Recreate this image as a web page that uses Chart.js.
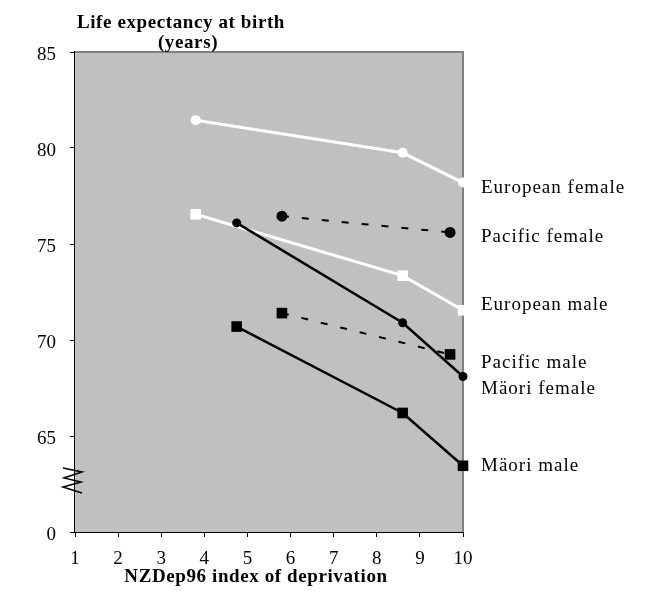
<!DOCTYPE html>
<html>
<head>
<meta charset="utf-8">
<script src="https://cdn.jsdelivr.net/npm/chart.js@4"></script>
<style>
  html, body { margin: 0; padding: 0; background: #fff; }
  #wrap { width: 650px; height: 600px; }
</style>
</head>
<body>
<div id="wrap"><canvas id="lifeChart" width="650" height="600"></canvas></div>
<script>
// deprivation index positions and life expectancy (years)
const euroFemaleX = [3.8, 8.6, 10];
const euroFemaleY = [81.45, 79.75, 78.2];
const euroMaleX = [3.8, 8.6, 10];
const euroMaleY = [76.55, 73.35, 71.55];
const pacFemaleX = [5.8, 9.7];
const pacFemaleY = [76.45, 75.6];
const pacMaleX = [5.8, 9.7];
const pacMaleY = [71.4, 69.25];
const maoriFemaleX = [4.75, 8.6, 10];
const maoriFemaleY = [76.1, 70.9, 68.1];
const maoriMaleX = [4.75, 8.6, 10];
const maoriMaleY = [70.7, 66.2, 63.45];

const seriesNames = ["European female", "Pacific female", "European male", "Pacific male", "Mäori female", "Mäori male"];
// where each series name sits on the right, in y-axis units
const nameAt = [77.9, 75.35, 71.8, 68.8, 67.45, 63.45];

const xTicks = [1, 2, 3, 4, 5, 6, 7, 8, 9, 10];
const yTicks = [60, 65, 70, 75, 80, 85];

const pts = (xs, ys) => xs.map((x, i) => ({ x: x, y: ys[i] }));
const serif = "'Liberation Serif', 'Times New Roman', serif";

const decor = {
  id: "decor",
  beforeDatasetsDraw(chart) {
    const { ctx, chartArea: a } = chart;
    ctx.save();
    ctx.fillStyle = "#c0c0c0";
    ctx.fillRect(a.left, a.top, a.right - a.left, a.bottom - a.top);
    ctx.strokeStyle = "#808080";
    ctx.lineWidth = 2;
    ctx.beginPath();
    ctx.moveTo(a.left, a.top);
    ctx.lineTo(a.right, a.top);
    ctx.lineTo(a.right, a.bottom);
    ctx.stroke();
    ctx.restore();
  },
  afterDraw(chart) {
    const { ctx, chartArea: a, scales } = chart;
    ctx.save();
    // axis break mark
    ctx.strokeStyle = "#000";
    ctx.lineWidth = 1.5;
    ctx.beginPath();
    const zz = [[-12, 0], [7, 4], [-11, 10], [6, 14], [-12, 19], [7, 25]];
    zz.forEach((p, i) => {
      const px = a.left + p[0], py = 468 + p[1];
      if (i === 0) ctx.moveTo(px, py); else ctx.lineTo(px, py);
    });
    ctx.stroke();

    ctx.fillStyle = "#000";
    ctx.textBaseline = "middle";
    ctx.textAlign = "center";
    ctx.letterSpacing = "0.6px";
    ctx.font = "bold 19px " + serif;
    ctx.fillText("Life expectancy at birth", 181, 23);
    ctx.fillText("(years)", 188, 43);
    ctx.fillText("NZDep96 index of deprivation", 256, 577);

    ctx.textAlign = "left";
    ctx.letterSpacing = "1px";
    ctx.font = "19px " + serif;
    seriesNames.forEach((n, i) => {
      ctx.fillText(n, a.right + 18, scales.y.getPixelForValue(nameAt[i]));
    });
    ctx.restore();
  }
};

const line = (label, data, color, shape, radius, width, dash) => ({
  label: label,
  data: data,
  borderColor: color,
  backgroundColor: color,
  pointBackgroundColor: color,
  pointBorderColor: color,
  pointStyle: shape,
  pointRadius: radius,
  pointBorderWidth: 0,
  borderWidth: width,
  borderDash: dash || [],
  showLine: true,
  clip: false,
  tension: 0
});

// first dataset is drawn on top, so the black series come first
new Chart(document.getElementById("lifeChart"), {
  type: "scatter",
  data: {
    datasets: [
      line(seriesNames[4], pts(maoriFemaleX, maoriFemaleY), "#000000", "circle", 4.5, 2.5),
      line(seriesNames[5], pts(maoriMaleX, maoriMaleY), "#000000", "rect", 7.5, 2.5),
      line(seriesNames[1], pts(pacFemaleX, pacFemaleY), "#000000", "circle", 5.5, 2, [7, 13]),
      line(seriesNames[3], pts(pacMaleX, pacMaleY), "#000000", "rect", 7.5, 2, [7, 13]),
      line(seriesNames[0], pts(euroFemaleX, euroFemaleY), "#ffffff", "circle", 5, 3),
      line(seriesNames[2], pts(euroMaleX, euroMaleY), "#ffffff", "rect", 7.5, 3)
    ]
  },
  options: {
    responsive: false,
    animation: false,
    layout: { padding: { top: 52, right: 187, left: 0, bottom: 0 } },
    plugins: { legend: { display: false }, tooltip: { enabled: false } },
    scales: {
      x: {
        type: "linear",
        min: 1,
        max: 10,
        afterBuildTicks: s => { s.ticks = xTicks.map(v => ({ value: v })); },
        afterFit: s => { s.height = 68; },
        grid: { drawOnChartArea: false, color: "#000", tickLength: 5 },
        border: { color: "#000", width: 2 },
        ticks: { color: "#000", font: { family: serif, size: 19 }, padding: 11 },
        title: { display: false, text: "NZDep96 index of deprivation" }
      },
      y: {
        type: "linear",
        min: 60,
        max: 85,
        afterBuildTicks: s => { s.ticks = yTicks.map(v => ({ value: v })); },
        afterFit: s => { s.width = 75; },
        grid: { drawOnChartArea: false, color: "#000", tickLength: 5 },
        border: { color: "#000", width: 1.5 },
        ticks: {
          color: "#000",
          font: { family: serif, size: 19 },
          padding: 14,
          labelOffset: 3,
          callback: v => (v === 60 ? "0" : String(v))
        }
      }
    }
  },
  plugins: [decor]
});
</script>
</body>
</html>
